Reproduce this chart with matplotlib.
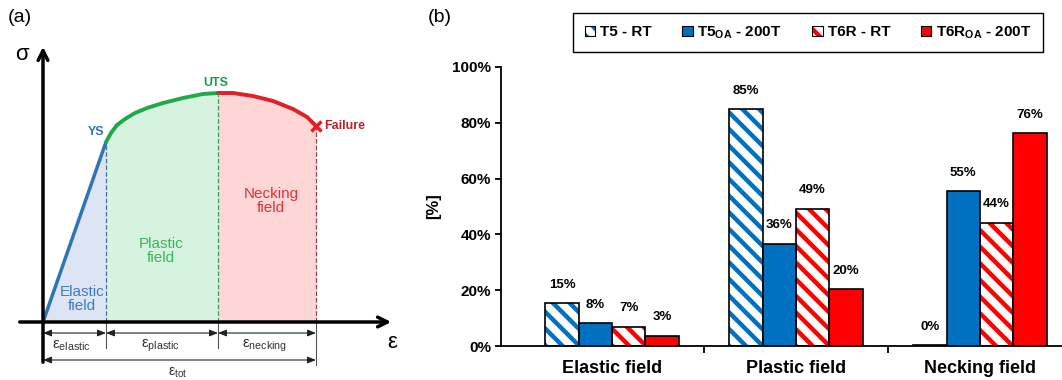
import matplotlib.pyplot as plt
from matplotlib.patches import Patch
from matplotlib.legend_handler import HandlerTuple

plt.rcParams['font.family'] = ['Liberation Sans', 'DejaVu Sans']
plt.rcParams['mathtext.fontset'] = 'custom'
plt.rcParams['mathtext.rm'] = 'Liberation Sans'
plt.rcParams['mathtext.it'] = 'Liberation Sans:italic'
plt.rcParams['mathtext.bf'] = 'Liberation Sans:bold'
plt.rcParams['hatch.linewidth'] = 3.2

# ---- data: schematic stress-strain curve (panel a), arbitrary units ----
elastic_strain = [0, 63]
elastic_stress = [0, 180]
plastic_strain = [63, 68, 74, 82, 92, 104, 120, 140, 160, 175]
plastic_stress = [180, 189, 197, 203, 209, 214, 219, 224, 228, 229]
necking_strain = [175, 190, 210, 230, 250, 264, 273]
necking_stress = [229, 229, 226, 221, 213, 205, 196]

# ---- data: strain fractions (panel b) ----
fields = ['Elastic field', 'Plastic field', 'Necking field']
series = ['T5 - RT', 'T5$_{\\mathbf{OA}}$ - 200T', 'T6R - RT', 'T6R$_{\\mathbf{OA}}$ - 200T']
t5_rt = [15.4, 84.8, 0.2]
t5oa_200 = [8.2, 36.6, 55.4]
t6r_rt = [6.9, 49.2, 44.2]
t6roa_200 = [3.6, 20.4, 76.2]
values = [t5_rt, t5oa_200, t6r_rt, t6roa_200]
value_labels = [['15%', '85%', '0%'], ['8%', '36%', '55%'],
                ['7%', '49%', '44%'], ['3%', '20%', '76%']]

BLUE = '#0070c0'
RED = '#ff0000'
colors = [BLUE, BLUE, RED, RED]
hatched = [True, False, True, False]

fig = plt.figure(figsize=(10.62, 3.8), dpi=100)

# ================= panel (a) =================
ax = fig.add_axes([0, 0, 420 / 1062, 1])
ax.set_xlim(-43, 377)
ax.set_ylim(-58, 322)
ax.axis('off')

ys_x, ys_y = elastic_strain[-1], elastic_stress[-1]
uts_x, uts_y = plastic_strain[-1], plastic_stress[-1]
f_x, f_y = necking_strain[-1], necking_stress[-1]

ax.fill_between(elastic_strain, elastic_stress, color='#dde4f4', lw=0)
ax.fill_between(plastic_strain, plastic_stress, color='#d5f3df', lw=0)
ax.fill_between(necking_strain, necking_stress, color='#fdd6d6', lw=0)

ax.plot(elastic_strain, elastic_stress, color='#2e75b6', lw=2.5, solid_capstyle='round')
ax.plot(plastic_strain, plastic_stress, color='#1faa4a', lw=2.8, solid_capstyle='round',
        solid_joinstyle='round')
ax.plot(necking_strain, necking_stress, color='#e01f26', lw=2.8, solid_capstyle='round',
        solid_joinstyle='round')

ax.plot([ys_x, ys_x], [0, ys_y], ls='--', color='#4a6fa5', lw=0.9)
ax.plot([uts_x, uts_x], [0, uts_y], ls='--', color='#3a9a5a', lw=0.9)
ax.plot([f_x, f_x], [0, f_y], ls='--', color='#a0404a', lw=0.9)
ax.plot(f_x, f_y, marker='x', color='#e01f26', ms=7, mew=2.5)

# axes arrows
ax.annotate('', xy=(0, 278), xytext=(0, -43),
            arrowprops=dict(arrowstyle='->,head_length=0.7,head_width=0.35', lw=2.5, color='k'))
ax.annotate('', xy=(351, 0), xytext=(-26, 0),
            arrowprops=dict(arrowstyle='->,head_length=0.7,head_width=0.35', lw=2.5, color='k'))

# dimension lines
for xv in [ys_x, uts_x]:
    ax.plot([xv, xv], [0, -26], color='#555555', lw=0.8)
ax.plot([f_x, f_x], [0, -43], color='#555555', lw=0.8)
dim = dict(arrowstyle='<|-|>,head_length=0.5,head_width=0.2', lw=0.8, color='#222222',
           shrinkA=0, shrinkB=0)
for a, b in [(0, ys_x), (ys_x, uts_x), (uts_x, f_x)]:
    ax.annotate('', xy=(b, -11), xytext=(a, -11), arrowprops=dim)
ax.annotate('', xy=(f_x, -38), xytext=(0, -38), arrowprops=dim)

ax.text(28, -24, 'ε$_{\\mathrm{elastic}}$', ha='center', va='center', fontsize=11, color='#333333')
ax.text(117, -24, 'ε$_{\\mathrm{plastic}}$', ha='center', va='center', fontsize=11, color='#333333')
ax.text(222, -24, 'ε$_{\\mathrm{necking}}$', ha='center', va='center', fontsize=11, color='#333333')
ax.text(135, -51, 'ε$_{\\mathrm{tot}}$', ha='center', va='center', fontsize=10, color='#333333')
ax.text(349, -20, 'ε', ha='center', va='center', fontsize=16)
ax.text(-21, 267, 'σ', ha='center', va='center', fontsize=16)

ax.text(39, 23, 'Elastic\nfield', ha='center', va='center', fontsize=11,
        color='#3b7dbf', linespacing=1.0)
ax.text(118, 71, 'Plastic\nfield', ha='center', va='center', fontsize=11,
        color='#3cb55a', linespacing=1.0)
ax.text(228, 121, 'Necking\nfield', ha='center', va='center', fontsize=11,
        color='#d93636', linespacing=1.0)
ax.text(53, 190, 'YS', ha='center', va='center', fontsize=9, fontweight='bold', color='#2e75b6')
ax.text(173, 239, 'UTS', ha='center', va='center', fontsize=9, fontweight='bold', color='#1e9a50')
ax.text(281, 196, 'Failure', ha='left', va='center', fontsize=9, fontweight='bold', color='#c0202a')

fig.text(20 / 1062, 1 - 18 / 380, '(a)', ha='center', va='center', fontsize=14)
fig.text(440 / 1062, 1 - 18 / 380, '(b)', ha='center', va='center', fontsize=14)

# ================= panel (b) =================
bx = fig.add_axes([501 / 1062, 34 / 380, 561 / 1062, 279 / 380])
w = 0.181
x = list(range(len(fields)))
for i, vals in enumerate(values):
    pos = [xi + (i - 1.5) * w for xi in x]
    if hatched[i]:
        bx.bar(pos, vals, w, facecolor='white', edgecolor=colors[i], hatch='\\\\', lw=0, zorder=2)
        bx.bar(pos, vals, w, fill=False, edgecolor='black', lw=1.2, zorder=3)
    else:
        bx.bar(pos, vals, w, facecolor=colors[i], edgecolor='black', lw=1.2, zorder=3)
    for p, v, lab in zip(pos, vals, value_labels[i]):
        bx.annotate(lab, (p, v), xytext=(0, 9), textcoords='offset points',
                    ha='center', va='bottom', fontsize=9.5, fontweight='bold')

bx.set_xlim(-0.603, 2.446)
bx.set_ylim(0, 100)
bx.set_yticks([0, 20, 40, 60, 80, 100])
bx.set_yticklabels(['0%', '20%', '40%', '60%', '80%', '100%'], fontweight='bold', fontsize=11)
bx.set_xticks(x)
bx.set_xticklabels(fields, fontweight='bold', fontsize=13)
bx.tick_params(axis='x', length=0, pad=10)
bx.set_xticks([0.5, 1.5], minor=True)
bx.tick_params(axis='x', which='minor', length=5, width=1.3, direction='out')
bx.tick_params(axis='y', length=4, width=1.3, direction='out', pad=3)
bx.spines['top'].set_visible(False)
bx.spines['right'].set_visible(False)
bx.spines['left'].set_linewidth(1.3)
bx.spines['bottom'].set_linewidth(1.3)
bx.set_ylabel('[%]', fontweight='bold', fontsize=12, labelpad=8)

handles = []
for i in range(4):
    if hatched[i]:
        handles.append((Patch(facecolor='white', edgecolor=colors[i], hatch='\\\\', lw=0),
                        Patch(fill=False, edgecolor='black', lw=0.8)))
    else:
        handles.append(Patch(facecolor=colors[i], edgecolor='black', lw=0.8))
fig.legend(handles, series, loc='center', bbox_to_anchor=(808 / 1062, 1 - 32.5 / 380),
           ncol=4, frameon=True, fancybox=False, edgecolor='black', framealpha=1,
           prop={'weight': 'bold', 'size': 11}, handlelength=0.7, handleheight=0.7,
           handletextpad=0.3, columnspacing=2.0, borderpad=0.75,
           handler_map={tuple: HandlerTuple(ndivide=1)})

fig.savefig('out.png', dpi=100)
